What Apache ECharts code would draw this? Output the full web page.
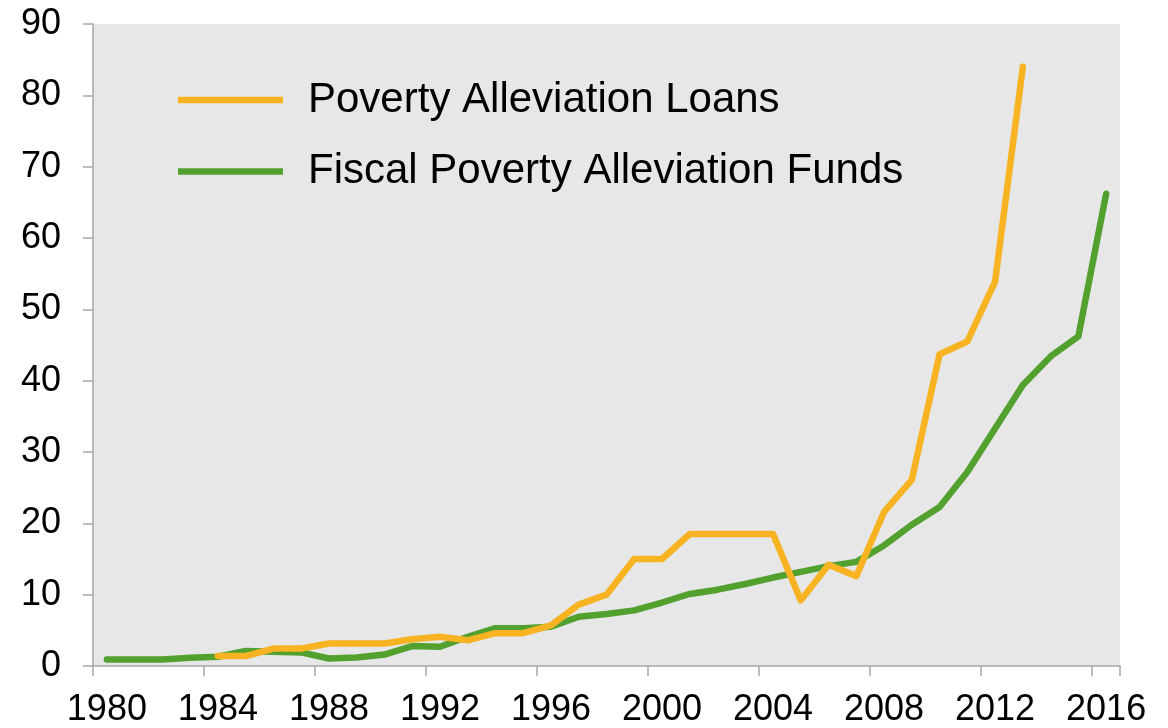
<!DOCTYPE html>
<html>
<head>
<meta charset="utf-8">
<title>Poverty Alleviation Funding</title>
<script src="https://cdn.jsdelivr.net/npm/echarts@6/dist/echarts.min.js"></script>
<style>
  html, body { margin: 0; padding: 0; background: #ffffff; }
  #chart { width: 1168px; height: 728px; }
</style>
</head>
<body>
<div id="chart"></div>
<script>
// Years on the category axis (one slot per year)
const years = [];
for (let y = 1980; y <= 2016; y++) years.push(String(y));

// Poverty alleviation loans (series begins in 1984, ends 2013)
const loans = [
  null, null, null, null,
  1.4, 1.4, 2.45, 2.45, 3.15, 3.15,
  3.15, 3.75, 4.1, 3.6, 4.6, 4.6,
  5.7, 8.6, 10.0, 15.0, 15.0, 18.5,
  18.5, 18.5, 18.5, 9.2, 14.2, 12.6,
  21.6, 26.1, 43.7, 45.5, 53.9, 84.0
];

// Fiscal poverty alleviation funds, 1980-2016
const fiscal = [
  0.9, 0.9, 0.9, 1.15, 1.3, 2.1,
  2.0, 1.9, 1.05, 1.2, 1.6, 2.8,
  2.7, 4.1, 5.3, 5.3, 5.5, 6.9,
  7.3, 7.8, 8.9, 10.1, 10.7, 11.5,
  12.4, 13.2, 14.0, 14.6, 16.9, 19.8,
  22.3, 27.2, 33.3, 39.4, 43.4, 46.2,
  66.2
];

const yTicks = { min: 0, max: 90, step: 10 };

const FONT = "'Liberation Sans', Arial, Helvetica, sans-serif";
const AXIS_GRAY = '#a6a6a6';
const ORANGE = '#f8b323';
const GREEN = '#52a12f';

const chart = echarts.init(document.getElementById('chart'), null, { renderer: 'canvas' });

chart.setOption({
  backgroundColor: '#ffffff',
  animation: false,
  textStyle: { fontFamily: FONT },
  grid: {
    left: 93,
    right: 48,
    top: 24,
    bottom: 60.5,
    show: true,
    backgroundColor: '#e7e7e7',
    borderWidth: 0
  },
  legend: {
    orient: 'vertical',
    left: 173,
    top: 70,
    icon: 'rect',
    itemWidth: 105,
    itemHeight: 6.5,
    itemGap: 21.4,
    textStyle: {
      fontFamily: FONT,
      fontSize: 42,
      lineHeight: 50,
      color: '#000000',
      padding: [0, 0, 0, 20]
    },
    data: ['Poverty Alleviation Loans', 'Fiscal Poverty Alleviation Funds']
  },
  xAxis: {
    type: 'category',
    data: years,
    boundaryGap: true,
    axisLine: { show: true, lineStyle: { color: AXIS_GRAY, width: 1.5 } },
    axisTick: { show: true, interval: 3, length: 10, lineStyle: { color: AXIS_GRAY, width: 1.5 } },
    axisLabel: {
      interval: 3,
      fontFamily: FONT,
      fontSize: 36,
      color: '#000000',
      margin: 26
    },
    splitLine: { show: false }
  },
  yAxis: {
    type: 'value',
    min: yTicks.min,
    max: yTicks.max,
    interval: yTicks.step,
    axisLine: { show: true, lineStyle: { color: AXIS_GRAY, width: 1.5 } },
    axisTick: { show: true, length: 10, lineStyle: { color: AXIS_GRAY, width: 1.5 } },
    axisLabel: {
      fontFamily: FONT,
      fontSize: 36,
      color: '#000000',
      margin: 32
    },
    splitLine: { show: false }
  },
  series: [
    {
      name: 'Poverty Alleviation Loans',
      type: 'line',
      data: loans,
      symbol: 'none',
      itemStyle: { color: ORANGE },
      lineStyle: { color: ORANGE, width: 6.5, cap: 'round', join: 'round' },
      z: 3
    },
    {
      name: 'Fiscal Poverty Alleviation Funds',
      type: 'line',
      data: fiscal,
      symbol: 'none',
      itemStyle: { color: GREEN },
      lineStyle: { color: GREEN, width: 6.5, cap: 'round', join: 'round' },
      z: 2
    }
  ]
});
</script>
</body>
</html>
